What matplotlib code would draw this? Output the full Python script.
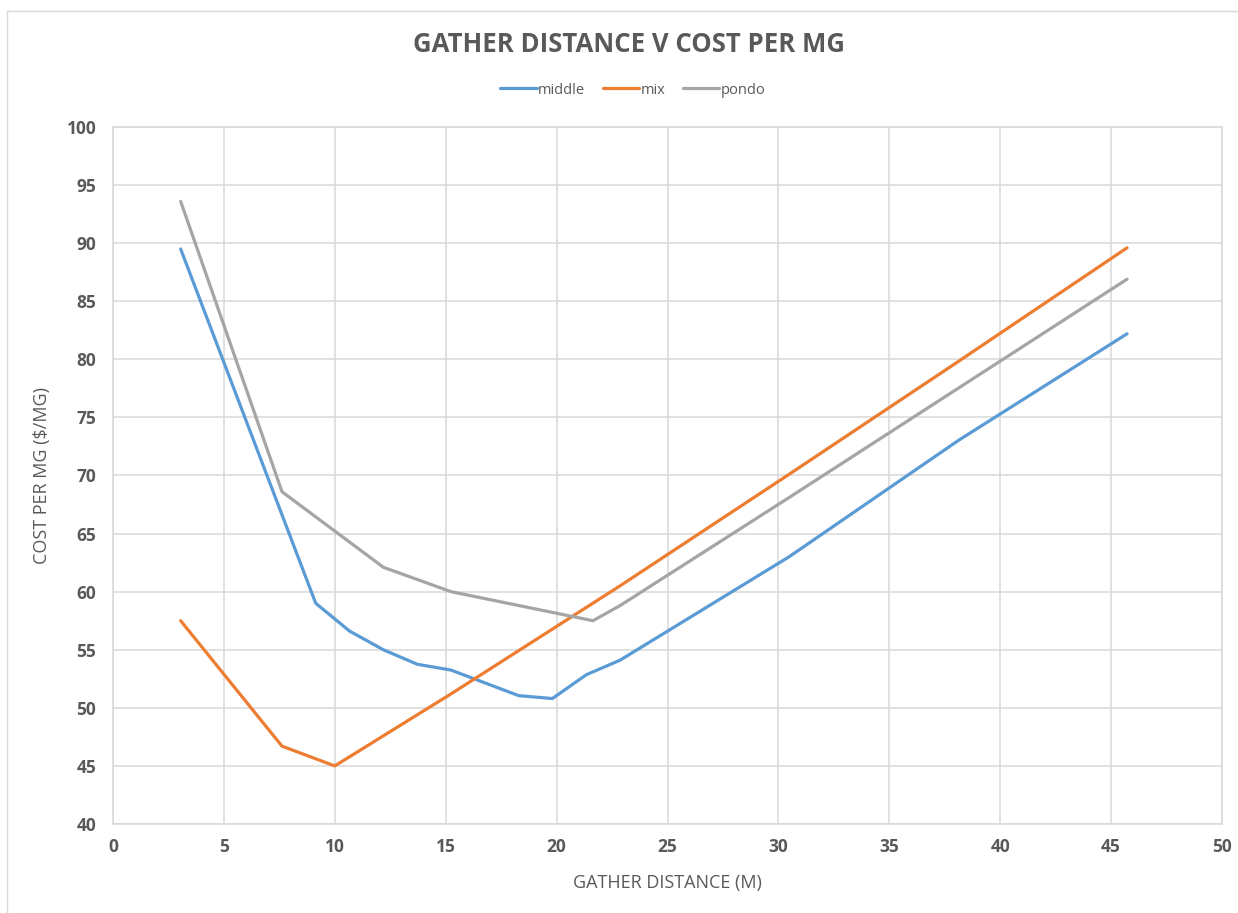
import matplotlib
matplotlib.use("Agg")
import matplotlib.pyplot as plt
from matplotlib.lines import Line2D

# Data
middle_x = [3.05, 9.14, 10.67, 12.19, 13.72, 15.24, 18.29, 19.81, 21.34, 22.86, 30.48, 38.10, 45.72]
middle_y = [89.5, 59.0, 56.6, 55.0, 53.75, 53.25, 51.05, 50.8, 52.85, 54.1, 63.0, 73.0, 82.2]

mix_x = [3.05, 7.62, 10.0, 15.24, 22.86, 30.48, 38.10, 45.72]
mix_y = [57.5, 46.7, 45.0, 51.2, 60.5, 70.1, 79.8, 89.6]

pondo_x = [3.05, 7.62, 12.19, 15.24, 21.64, 22.86, 30.48, 38.10, 45.72]
pondo_y = [93.6, 68.6, 62.1, 60.0, 57.5, 58.8, 68.1, 77.5, 86.9]

series_names = ["middle", "mix", "pondo"]
series_colors = ["#5B9BD5", "#ED7D31", "#A5A5A5"]

x_ticks = list(range(0, 51, 5))
y_ticks = list(range(40, 101, 5))

title = "GATHER DISTANCE V COST PER MG"
xlabel = "GATHER DISTANCE (M)"
ylabel = "COST PER MG ($/MG)"

W, H = 1238, 913
fig = plt.figure(figsize=(W / 100, H / 100), dpi=100)
plt.rcParams['font.family'] = ['Open Sans', 'DejaVu Sans']

left, right, top, bottom = 113, 1222, 127, 824
ax = fig.add_axes([left / W, 1 - bottom / H, (right - left) / W, (bottom - top) / H])

txt = "#595959"
grid_c = "#D9D9D9"

for xs, ys, name, c in zip([middle_x, mix_x, pondo_x], [middle_y, mix_y, pondo_y], series_names, series_colors):
    ax.plot(xs, ys, color=c, lw=2.3, label=name, solid_joinstyle='round', solid_capstyle='round', zorder=3)

ax.set_xlim(0, 50)
ax.set_ylim(40, 100)
ax.set_xticks(x_ticks)
ax.set_yticks(y_ticks)
ax.grid(True, color=grid_c, lw=1.1, zorder=0)
for s in ax.spines.values():
    s.set_color(grid_c)
    s.set_linewidth(1.1)
ax.tick_params(length=0, colors=txt, labelsize=12.5, pad=12)
for lab in ax.get_xticklabels() + ax.get_yticklabels():
    lab.set_fontweight('bold')
    lab.set_color(txt)
ax.tick_params(axis='x', pad=10)

ax.set_xlabel(xlabel, fontsize=13, color=txt, labelpad=13)
ax.set_ylabel(ylabel, fontsize=13, color=txt, labelpad=11)

fig.text(629 / W, 1 - 45 / H, title, ha='center', va='center', fontsize=18.5,
         fontweight='bold', color=txt)

leg = fig.legend(loc='center', bbox_to_anchor=(633 / W, 1 - 90 / H), ncol=3, frameon=False,
                 fontsize=10.5, handlelength=2.5, handletextpad=0.1, columnspacing=1.2)
for t in leg.get_texts():
    t.set_color(txt)

# figure border (top and left visible)
fig.add_artist(Line2D([7 / W, 7 / W], [0, 1 - 11 / H], color="#D9D9D9", lw=1.0, transform=fig.transFigure))
fig.add_artist(Line2D([7 / W, 1], [1 - 11 / H, 1 - 11 / H], color="#D9D9D9", lw=1.0, transform=fig.transFigure))

fig.savefig("out.png", dpi=100)
